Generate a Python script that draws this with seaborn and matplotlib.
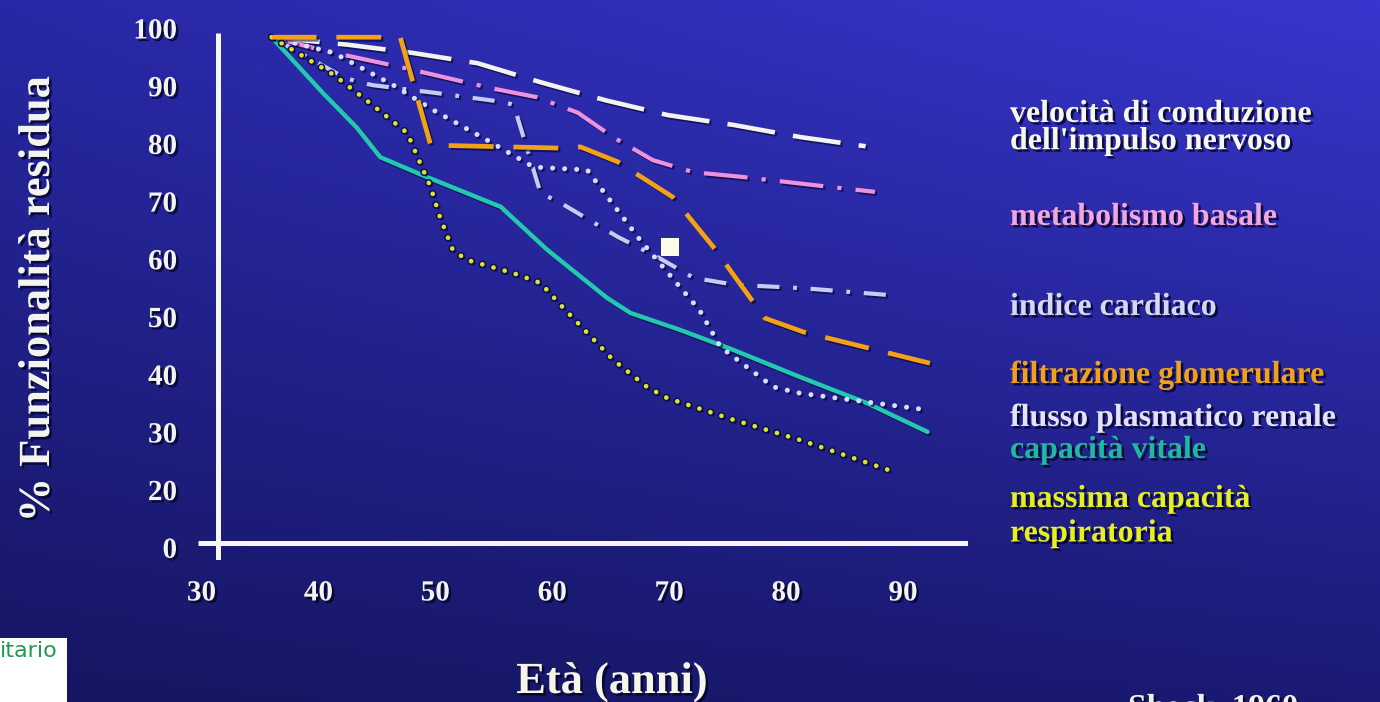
import numpy as np
import pandas as pd
import matplotlib
matplotlib.use("Agg")
import matplotlib.pyplot as plt
import matplotlib.patheffects as pe
from matplotlib.patches import Rectangle
import seaborn as sns

# ---- age (years) and residual function (%) for each physiological parameter ----
eta_velocita = [36, 42.5, 48, 53.6, 59, 64.5, 69.9, 75.5, 81.2, 86.8]
val_velocita = [98.4, 97.1, 95.7, 93.9, 90.6, 87.5, 84.9, 83.2, 81.1, 79.5]

eta_metabolismo = [36, 40.2, 47.3, 54.7, 58.7, 62.2, 65.2, 68.6, 72.1, 76.2, 84.0, 87.6]
val_metabolismo = [98.4, 96.2, 93.1, 89.6, 88.0, 85.3, 81.1, 77.1, 75.0, 74.2, 72.4, 71.6]

eta_cardiaco = [36, 42.3, 44.6, 50.2, 55.7, 56.7, 59.0, 60.7, 65.6, 69.0, 72.1, 75.6, 81.5, 88.9]
val_cardiaco = [98.4, 91.3, 90.1, 88.7, 87.2, 86.7, 71.4, 69.7, 63.8, 60.3, 56.7, 55.5, 54.9, 53.7]

eta_filtrazione = [36, 47.0, 49.6, 60.4, 62.4, 65.6, 70.3, 73.8, 78.2, 81.5, 92.3]
val_filtrazione = [98.4, 98.4, 79.7, 79.2, 79.4, 76.8, 70.7, 62.0, 49.7, 47.3, 41.9]

eta_flusso = [36, 41.3, 46.4, 49.8, 54.4, 58.4, 63.0, 64.1, 67.5, 72.6, 74.4, 78.9, 81.2, 92.1]
val_flusso = [98.4, 95.7, 90.1, 85.8, 80.6, 75.9, 75.4, 72.4, 63.3, 51.1, 44.7, 37.8, 36.7, 33.8]

eta_vitale = [36, 40.4, 43.3, 45.3, 49.0, 55.6, 59.6, 64.7, 66.7, 70.9, 75.5, 81.2, 86.9, 92.1]
val_vitale = [98.4, 88.7, 82.7, 77.6, 74.4, 69.0, 61.5, 53.2, 50.6, 47.7, 44.2, 39.5, 35.0, 30.0]

eta_respiratoria = [36, 41.3, 44.4, 47.6, 48.7, 49.6, 50.4, 51.5, 52.7, 56.7, 59.0,
                    60.9, 65.2, 68.1, 69.8, 75.5, 81.2, 89.5]
val_respiratoria = [98.4, 91.9, 87.0, 81.8, 76.6, 72.4, 67.2, 61.5, 59.8, 57.5, 55.8,
                    51.6, 42.5, 37.8, 35.9, 32.1, 28.6, 22.9]

# single highlighted point
punto_eta = [70.1]
punto_val = [62.0]

# axis ticks (the vertical axis is broken: "0" sits one step below "20")
xtick_vals = [30, 40, 50, 60, 70, 80, 90]
xtick_labels = ["30", "40", "50", "60", "70", "80", "90"]
ytick_pos = [100, 90, 80, 70, 60, 50, 40, 30, 20, 10]
ytick_labels = ["100", "90", "80", "70", "60", "50", "40", "30", "20", "0"]

legend_labels = [
    "velocità di conduzione\ndell'impulso nervoso",
    "metabolismo basale",
    "indice cardiaco",
    "filtrazione glomerulare",
    "flusso plasmatico renale",
    "capacità vitale",
    "massima capacità\nrespiratoria",
]

# ---- styling ----
sns.set_theme(style="white")
plt.rcParams["font.family"] = ["Liberation Serif", "DejaVu Serif"]

W, H = 1380, 702
fig = plt.figure(figsize=(W / 100, H / 100), dpi=100)


def fx(px):
    return px / W


def fy(py):
    return 1 - py / H


# slide background: blue gradient, brighter towards the top right
bg = fig.add_axes([0, 0, 1, 1], zorder=-10)
bg.axis("off")
gx = np.linspace(0, 1, 256)[None, :, None]
gy = np.linspace(0, 1, 128)[:, None, None]
tl = np.array([40, 40, 166]) / 255
tr = np.array([56, 54, 206]) / 255
bl = np.array([22, 22, 98]) / 255
br = np.array([26, 26, 116]) / 255
grad = (1 - gy) * ((1 - gx) * tl + gx * tr) + gy * ((1 - gx) * bl + gx * br)
bg.imshow(grad, aspect="auto", extent=[0, 1, 0, 1], interpolation="bilinear")
bg.set_xlim(0, 1)
bg.set_ylim(0, 1)

ax = fig.add_axes([fx(198), fy(560), fx(968) - fx(198), (560 - 25.1) / H])
ax.set_facecolor("none")
ax.set_xlim(29.7, 95.56)
ax.set_ylim(7.8, 100.5)
for s in ax.spines.values():
    s.set_visible(False)
ax.grid(False)

axis_col = "#f6f6f6"
ax.axhline(10.75, color=axis_col, lw=3.6, zorder=2, solid_capstyle="butt")
ax.axvline(31.37, ymin=0, ymax=(99.1 - 7.8) / (100.5 - 7.8), color=axis_col,
           lw=3.6, zorder=2, solid_capstyle="butt")

shadow_line = pe.SimpleLineShadow(offset=(1.5, -1.5), shadow_color="#000028", alpha=0.55)

series = [
    # x, y, colour, width, dash pattern (None = solid), round dots, dark outline
    (eta_velocita, val_velocita, "#f4f4ee", 3.3, (10.5, 4.0), False, False),
    (eta_metabolismo, val_metabolismo, "#ee92de", 3.0, (10.5, 3.4, 1.0, 3.4), False, False),
    (eta_cardiaco, val_cardiaco, "#c6cbf2", 3.0, (5.3, 3.3, 0.9, 3.3), False, False),
    (eta_vitale, val_vitale, "#22c8b0", 3.2, None, False, False),
    (eta_flusso, val_flusso, "#dcdcff", 3.6, (0.01, 2.4), True, False),
    (eta_respiratoria, val_respiratoria, "#dce432", 3.4, (0.01, 2.45), True, True),
    (eta_filtrazione, val_filtrazione, "#f2a214", 3.4, (9.5, 4.2), False, False),
]

for i, (xs, ys, col, lw, dash, rounded, outline) in enumerate(series):
    sns.lineplot(x=xs, y=ys, ax=ax, color=col, linewidth=lw, sort=False,
                 estimator=None, legend=False)
    line = ax.lines[-1]
    line.set_zorder(3 + i)
    if dash is not None:
        line.set_linestyle((0, dash))
    cap = "round" if rounded else "butt"
    line.set_dash_capstyle(cap)
    line.set_solid_capstyle("round")
    effects = [shadow_line]
    if outline:
        effects.append(pe.Stroke(linewidth=lw + 2.2, foreground="#10104a"))
    effects.append(pe.Normal())
    line.set_path_effects(effects)

sns.scatterplot(x=punto_eta, y=punto_val, ax=ax, marker="s", s=150,
                color="#fbfbea", edgecolor="#fbfbea", linewidth=0, zorder=12,
                legend=False)

# ticks
text_shadow = [pe.withSimplePatchShadow(offset=(1.8, -1.8), shadow_rgbFace="#05052a", alpha=0.85)]
tick_font = dict(family=["Liberation Serif", "DejaVu Serif"], weight="bold", size=21)
ax.set_xticks(xtick_vals)
ax.set_xticklabels(xtick_labels, **tick_font)
ax.set_yticks(ytick_pos)
ax.set_yticklabels(ytick_labels, **tick_font)
ax.tick_params(axis="both", length=0, colors="#f4f4ee")
ax.tick_params(axis="y", pad=15)
ax.tick_params(axis="x", pad=14)
for t in ax.get_xticklabels() + ax.get_yticklabels():
    t.set_path_effects(text_shadow)

# axis titles
ax.set_ylabel("% Funzionalità residua", fontsize=32, weight="bold", color="#f4f4ee",
              path_effects=text_shadow)
ax.yaxis.set_label_coords((38 - 198) / 770, (560 - 299) / 534.9)
ax.yaxis.label.set_verticalalignment("center")

fig.text(fx(612), fy(693), "Età (anni)", ha="center", va="baseline", fontsize=32,
         weight="bold", color="#f6f6e8", path_effects=text_shadow)

# series names on the right, each in its line colour
legend_size = 23
em_px = legend_size * 100 / 72
legend_colors = ["#f8f8ea", "#f2a6dc", "#d6d8f2", "#f2a018", "#e4e2fa", "#1fb8a0", "#e6f020"]
legend_first_baseline = [122, 225, 315, 383, 426, 458, 507]
legend_spacing = [0.92, 1.0, 1.0, 1.0, 1.0, 1.0, 1.25]
for lab, col, b, ls in zip(legend_labels, legend_colors, legend_first_baseline, legend_spacing):
    fig.text(fx(1010), fy(b - 0.69 * em_px), lab, ha="left", va="top",
             fontsize=legend_size, weight="bold", color=col, linespacing=ls,
             path_effects=text_shadow)

# source note at the bottom edge
fig.text(fx(1128), fy(693), "Shock, 1960", ha="left", va="top", fontsize=24,
         weight="bold", color="#f0f0f0", path_effects=text_shadow)

# corner badge
fig.patches.append(Rectangle((0, 0), fx(67), fy(638), transform=fig.transFigure,
                             facecolor="white", edgecolor="none", zorder=5))
fig.text(fx(0), fy(651), "itario", ha="left", va="center", fontsize=16,
         family="DejaVu Sans", color="#1f9a50", zorder=6)

fig.savefig("out.png", dpi=100)
